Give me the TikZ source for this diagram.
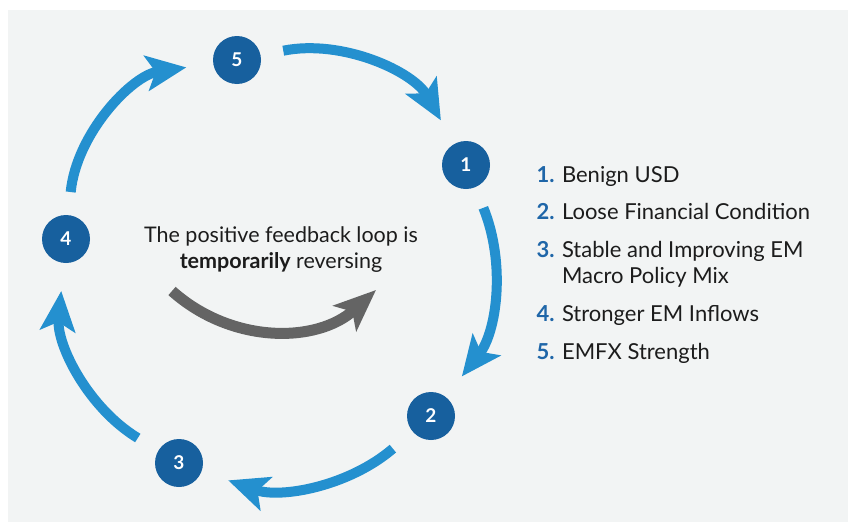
\documentclass[tikz,border=0pt]{standalone}
\usepackage{fontspec}
\setmainfont{Lato}
\usetikzlibrary{arrows.meta}

\definecolor{bgpanel}{HTML}{F2F4F4}
\definecolor{dotblue}{HTML}{17609E}
\definecolor{arrowblue}{HTML}{2490CF}
\definecolor{loopgray}{HTML}{646464}
\definecolor{numblue}{HTML}{1F66A8}
\definecolor{inktext}{HTML}{1C1C1C}

\newcommand{\itemnum}[1]{\textcolor{numblue}{\bfseries #1}}

\tikzset{
  numdot/.style={circle, fill=dotblue, minimum size=48pt, inner sep=0pt, text=white, font=\fontsize{19}{19}\selectfont\bfseries},
  cyclearrow/.style={draw=arrowblue, line width=10pt, -{Stealth[length=40pt, width=35pt, inset=9pt]}},
  backarrow/.style={draw=loopgray, line width=11pt, -{Stealth[length=42pt, width=34pt, inset=10pt]}},
  listitem/.style={anchor=base west, align=left, text=inktext, font=\fontsize{22}{26}\selectfont},
  looptext/.style={anchor=base, text=inktext, font=\fontsize{21.5}{24}\selectfont}
}

\begin{document}
\begin{tikzpicture}[x=1pt, y=-1pt]
\useasboundingbox (0,0) rectangle (848,522);
\fill [bgpanel] (8,10) rectangle (848,522);

% numbered steps
\foreach \n/\x/\y in {1/466/165, 2/431/416, 3/179/463, 4/66/239, 5/237/60}
{
  \node [numdot] (c\n) at (\x,\y) {\n};
}

% cycle arrows
\draw [cyclearrow][shorten <=23pt, shorten >=27pt] (c5) to[bend left=36] (c1);
\draw [cyclearrow][shorten <=22pt, shorten >=26pt] (c1) to[bend left=30] (c2);
\draw [cyclearrow][shorten <=26pt, shorten >=28pt] (c2) to[bend left=30] (c3);
\draw [cyclearrow][shorten <=24pt, shorten >=28pt] (c3) to[bend left=32] (c4);
\draw [cyclearrow][shorten <=23pt, shorten >=27pt] (c4) to[bend left=38] (c5);

% middle text and reversing arrow
\node [looptext] (loop1) at (281,242) {The positive feedback loop is};
\node [looptext] (loop2) at (281,268) {\textbf{temporarily} reversing};

\coordinate (revstart) at (172,291);
\coordinate (revend) at (376,290);
\draw [backarrow] (revstart) to[bend right=42] (revend);

% legend
\node [listitem] (item1) at (533,182) {\itemnum{1.} Benign USD};
\node [listitem] (item2) at (533,219) {\itemnum{2.} Loose Financial Condition};
\node [listitem] (item3) at (533,283) {\itemnum{3.} Stable and Improving EM\\\phantom{\itemnum{3.} }Macro Policy Mix};
\node [listitem] (item4) at (533,321) {\itemnum{4.} Stronger EM Inflows};
\node [listitem] (item5) at (533,359) {\itemnum{5.} EMFX Strength};

\end{tikzpicture}
\end{document}
